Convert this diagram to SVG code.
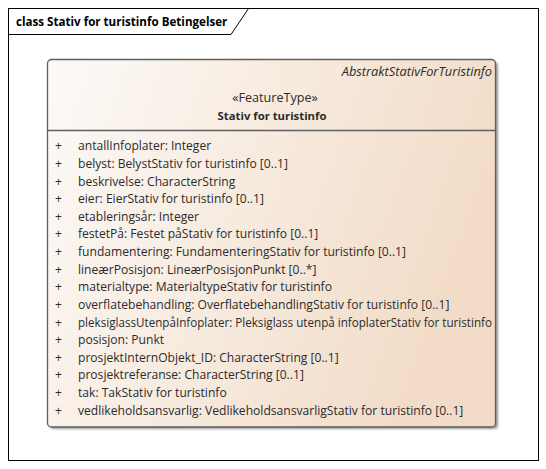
<svg xmlns="http://www.w3.org/2000/svg" width="546" height="469" viewBox="0 0 546 469">
<defs>
<linearGradient id="g" x1="0" y1="0" x2="1" y2="0.3">
<stop offset="0" stop-color="#FCFAF7"/>
<stop offset="1" stop-color="#F2DCC8"/>
</linearGradient>
<filter id="sh" x="-5%" y="-5%" width="110%" height="110%">
<feGaussianBlur stdDeviation="1.2"/>
</filter>
</defs>
<style>
.t{font-family:"Open Sans","Liberation Sans",sans-serif;font-size:12.1px;fill:#2b2b2b}
.b{font-weight:bold;font-size:11.3px}
.i{font-style:italic;font-size:12.8px}
.s{font-size:12.6px}
.h{font-weight:bold;font-size:11.6px;fill:#000}
</style>
<rect x="0" y="0" width="546" height="469" fill="#fff"/>
<g id="frame">
<rect x="8.5" y="8.5" width="530" height="452" fill="none" stroke="#000" stroke-width="1"/>
<path d="M8.5,34.5 H231 L248.5,8.5" fill="none" stroke="#000" stroke-width="1"/>
<text class="t h" x="16" y="25.5">class Stativ for turistinfo Betingelser</text>
</g>
<g id="Stativ_for_turistinfo">
<rect x="50" y="62" width="448" height="367" rx="4" fill="#9a9a9a" filter="url(#sh)"/>
<rect x="47.5" y="59.5" width="448" height="367.5" rx="4" fill="url(#g)" stroke="#5f5f5f" stroke-width="1.3"/>
<line x1="47.5" y1="130.5" x2="495.5" y2="130.5" stroke="#5f5f5f" stroke-width="1.3"/>
<text class="t i" x="492" y="76" text-anchor="end">AbstraktStativForTuristinfo</text>
<text class="t s" x="275" y="101.5" text-anchor="middle">«FeatureType»</text>
<text class="t b" x="272" y="119.5" text-anchor="middle">Stativ for turistinfo</text>
<g class="t">
<text x="55" y="150.2">+</text><text x="78" y="150.2">antallInfoplater: Integer</text>
<text x="55" y="167.8">+</text><text x="78" y="167.8">belyst: BelystStativ for turistinfo [0..1]</text>
<text x="55" y="185.5">+</text><text x="78" y="185.5">beskrivelse: CharacterString</text>
<text x="55" y="203.1">+</text><text x="78" y="203.1">eier: EierStativ for turistinfo [0..1]</text>
<text x="55" y="220.7">+</text><text x="78" y="220.7">etableringsår: Integer</text>
<text x="55" y="238.4">+</text><text x="78" y="238.4">festetPå: Festet påStativ for turistinfo [0..1]</text>
<text x="55" y="256">+</text><text x="78" y="256">fundamentering: FundamenteringStativ for turistinfo [0..1]</text>
<text x="55" y="273.6">+</text><text x="78" y="273.6">lineærPosisjon: LineærPosisjonPunkt [0..*]</text>
<text x="55" y="291.2">+</text><text x="78" y="291.2">materialtype: MaterialtypeStativ for turistinfo</text>
<text x="55" y="308.9">+</text><text x="78" y="308.9">overflatebehandling: OverflatebehandlingStativ for turistinfo [0..1]</text>
<text x="55" y="326.5">+</text><text x="78" y="326.5" textLength="414" lengthAdjust="spacingAndGlyphs">pleksiglassUtenpåInfoplater: Pleksiglass utenpå infoplaterStativ for turistinfo</text>
<text x="55" y="344.1">+</text><text x="78" y="344.1">posisjon: Punkt</text>
<text x="55" y="361.8">+</text><text x="78" y="361.8">prosjektInternObjekt_ID: CharacterString [0..1]</text>
<text x="55" y="379.4">+</text><text x="78" y="379.4">prosjektreferanse: CharacterString [0..1]</text>
<text x="55" y="397">+</text><text x="78" y="397">tak: TakStativ for turistinfo</text>
<text x="55" y="414.6">+</text><text x="78" y="414.6">vedlikeholdsansvarlig: VedlikeholdsansvarligStativ for turistinfo [0..1]</text>
</g>
</g>
<g id="connectors"/>
</svg>
